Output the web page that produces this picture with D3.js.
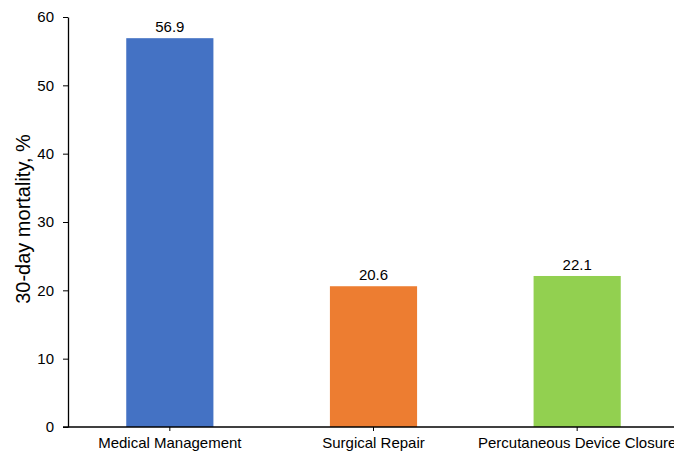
<!DOCTYPE html>
<html>
<head>
<meta charset="utf-8">
<script src="https://cdn.jsdelivr.net/npm/d3@7"></script>
<style>
  body { margin: 0; background: #fff; }
  text { font-family: "Liberation Sans", Arial, sans-serif; fill: #000; }
</style>
</head>
<body>
<div id="chart"></div>
<script>
var categories = ["Medical Management", "Surgical Repair", "Percutaneous Device Closure"];
var values = [56.9, 20.6, 22.1];
var colors = ["#4472C4", "#ED7D31", "#92D050"];
var yTicks = [0, 10, 20, 30, 40, 50, 60];

var svg = d3.select("#chart").append("svg").attr("width", 674).attr("height", 454),
    marginLeft = 68, plotTop = 17, plotBottom = 427;

var x = d3.scaleBand()
    .domain(categories)
    .range([marginLeft, 679])
    .paddingInner(0.572)
    .paddingOuter(0.286);

var y = d3.scaleLinear().domain([0, 60]).range([plotBottom, plotTop]);

// bars
svg.append("g")
    .selectAll("rect")
    .data(values)
    .enter().append("rect")
    .attr("x", function(d, i) { return x(categories[i]); })
    .attr("y", function(d) { return y(d); })
    .attr("width", x.bandwidth())
    .attr("height", function(d) { return plotBottom - y(d); })
    .style("fill", function(d, i) { return colors[i]; });

// value labels
svg.append("g")
    .selectAll("text")
    .data(values)
    .enter().append("text")
    .attr("x", function(d, i) { return x(categories[i]) + x.bandwidth() / 2; })
    .attr("y", function(d) { return y(d) - 6; })
    .attr("text-anchor", "middle")
    .style("font-size", "15px")
    .text(function(d) { return d.toFixed(1); });

// y axis
var yAxis = svg.append("g")
    .attr("transform", "translate(" + marginLeft + ",0)")
    .call(d3.axisLeft(y).tickValues(yTicks).tickSize(5).tickPadding(9).tickSizeOuter(0));
yAxis.select(".domain").attr("stroke", "#000").attr("stroke-width", 1.3);
yAxis.selectAll("text").style("font-size", "15px");

// x axis
var xAxis = svg.append("g")
    .attr("transform", "translate(0," + plotBottom + ")")
    .call(d3.axisBottom(x).tickSize(4).tickPadding(6).tickSizeOuter(0));
xAxis.select(".domain").attr("d", "M" + (marginLeft - 5) + ",0H679").attr("stroke", "#000").attr("stroke-width", 1.3);
xAxis.selectAll("text").style("font-size", "15px");

// y label
svg.append("text")
    .attr("transform", "translate(30,219) rotate(-90)")
    .attr("text-anchor", "middle")
    .style("font-size", "20px")
    .text("30-day mortality, %");
</script>
</body>
</html>
